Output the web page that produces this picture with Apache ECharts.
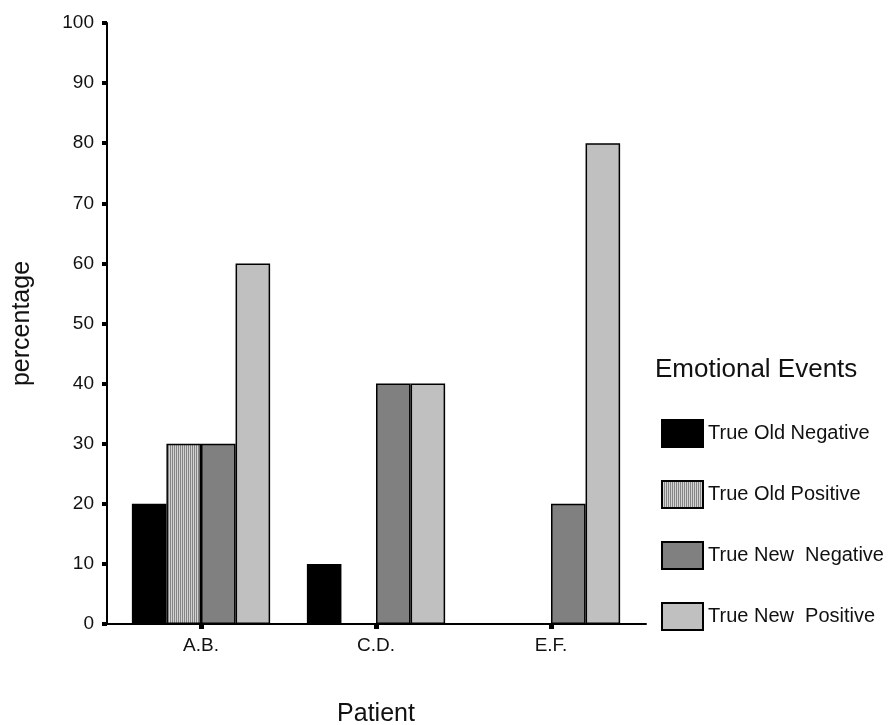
<!DOCTYPE html>
<html>
<head>
<meta charset="utf-8">
<script src="https://cdn.jsdelivr.net/npm/echarts@6/dist/echarts.min.js"></script>
<style>
html, body { margin: 0; padding: 0; background: #fff; }
#chart { width: 896px; height: 725px; }
</style>
</head>
<body>
<div id="chart"></div>
<script>
var patients = ['A.B.', 'C.D.', 'E.F.'];
var seriesNames = ['True Old Negative', 'True Old Positive', 'True New  Negative', 'True New  Positive'];
var oldNegative = [20, 10, 0];
var oldPositive = [30, 0, 0];
var newNegative = [30, 40, 20];
var newPositive = [60, 40, 80];
var yTicks = [0, 10, 20, 30, 40, 50, 60, 70, 80, 90, 100];

// vertical stripes for the "old positive" bars
function stripePattern() {
    var c = document.createElement('canvas');
    c.width = 2;
    c.height = 4;
    var ctx = c.getContext('2d');
    ctx.fillStyle = '#d2d2d2';
    ctx.fillRect(0, 0, 2, 4);
    ctx.fillStyle = '#858585';
    ctx.fillRect(0, 0, 1, 4);
    return { image: c, repeat: 'repeat' };
}

var fills = ['#000000', stripePattern(), '#808080', '#c0c0c0'];
var values = [oldNegative, oldPositive, newNegative, newPositive];
var font = '"Liberation Sans", Arial, sans-serif';

function GetSeries() {
    var Ret = [];
    for (var i = 0; i < seriesNames.length; i++) {
        Ret.push({
            name: seriesNames[i],
            type: 'bar',
            xAxisIndex: 1,
            yAxisIndex: 1,
            barGap: '0%',
            barCategoryGap: '21%',
            itemStyle: { color: fills[i], borderColor: '#000', borderWidth: 1.5 },
            emphasis: { disabled: true },
            data: values[i]
        });
    }
    return Ret;
}

var myChart = echarts.init(document.getElementById('chart'));
option = {
    animation: false,
    backgroundColor: '#fff',
    title: {
        text: 'Emotional Events',
        left: 650,
        top: 352,
        textStyle: { fontFamily: font, fontSize: 26, fontWeight: 'normal', color: '#111' }
    },
    legend: {
        orient: 'vertical',
        left: 661,
        top: 419,
        padding: 0,
        itemWidth: 41,
        itemHeight: 27,
        itemGap: 32,
        itemTextGap: 6,
        icon: 'rect',
        selectedMode: false,
        data: seriesNames,
        itemStyle: { borderWidth: 2, borderColor: '#000' },
        textStyle: { fontFamily: font, fontSize: 20, color: '#111' }
    },
    grid: [
        { left: 107, right: 250, top: 23, bottom: 101, outerBoundsMode: 'none' },
        { left: 113.5, width: 525, top: 23, bottom: 101, outerBoundsMode: 'none' }
    ],
    xAxis: [
        {
            type: 'value',
            gridIndex: 0,
            min: 0,
            max: 1,
            axisLine: { show: true, lineStyle: { color: '#000', width: 2 } },
            axisTick: { show: false },
            axisLabel: { show: false },
            splitLine: { show: false }
        },
        {
            type: 'category',
            gridIndex: 1,
            data: patients,
            name: 'Patient',
            nameLocation: 'middle',
            nameGap: 78,
            nameTextStyle: { fontFamily: font, fontSize: 25, color: '#111' },
            axisLine: { show: false },
            axisTick: { show: true, alignWithLabel: true, length: 5, lineStyle: { color: '#000', width: 5 } },
            axisLabel: { fontFamily: font, fontSize: 19, color: '#111', margin: 12 }
        }
    ],
    yAxis: [
        {
            type: 'value',
            gridIndex: 0,
            min: 0,
            max: 100,
            interval: 10,
            name: 'percentage',
            nameLocation: 'middle',
            nameGap: 72,
            nameTextStyle: { fontFamily: font, fontSize: 25, color: '#111' },
            axisLine: { show: true, lineStyle: { color: '#000', width: 2 } },
            axisTick: { show: true, length: 5, lineStyle: { color: '#000', width: 4 } },
            axisLabel: {
                fontFamily: font, fontSize: 19, color: '#111', margin: 13,
                formatter: function (v) { return yTicks.indexOf(v) >= 0 ? String(v) : ''; }
            },
            splitLine: { show: false }
        },
        {
            type: 'value',
            gridIndex: 1,
            min: 0,
            max: 100,
            show: false
        }
    ],
    series: GetSeries()
};
myChart.setOption(option);
</script>
</body>
</html>
